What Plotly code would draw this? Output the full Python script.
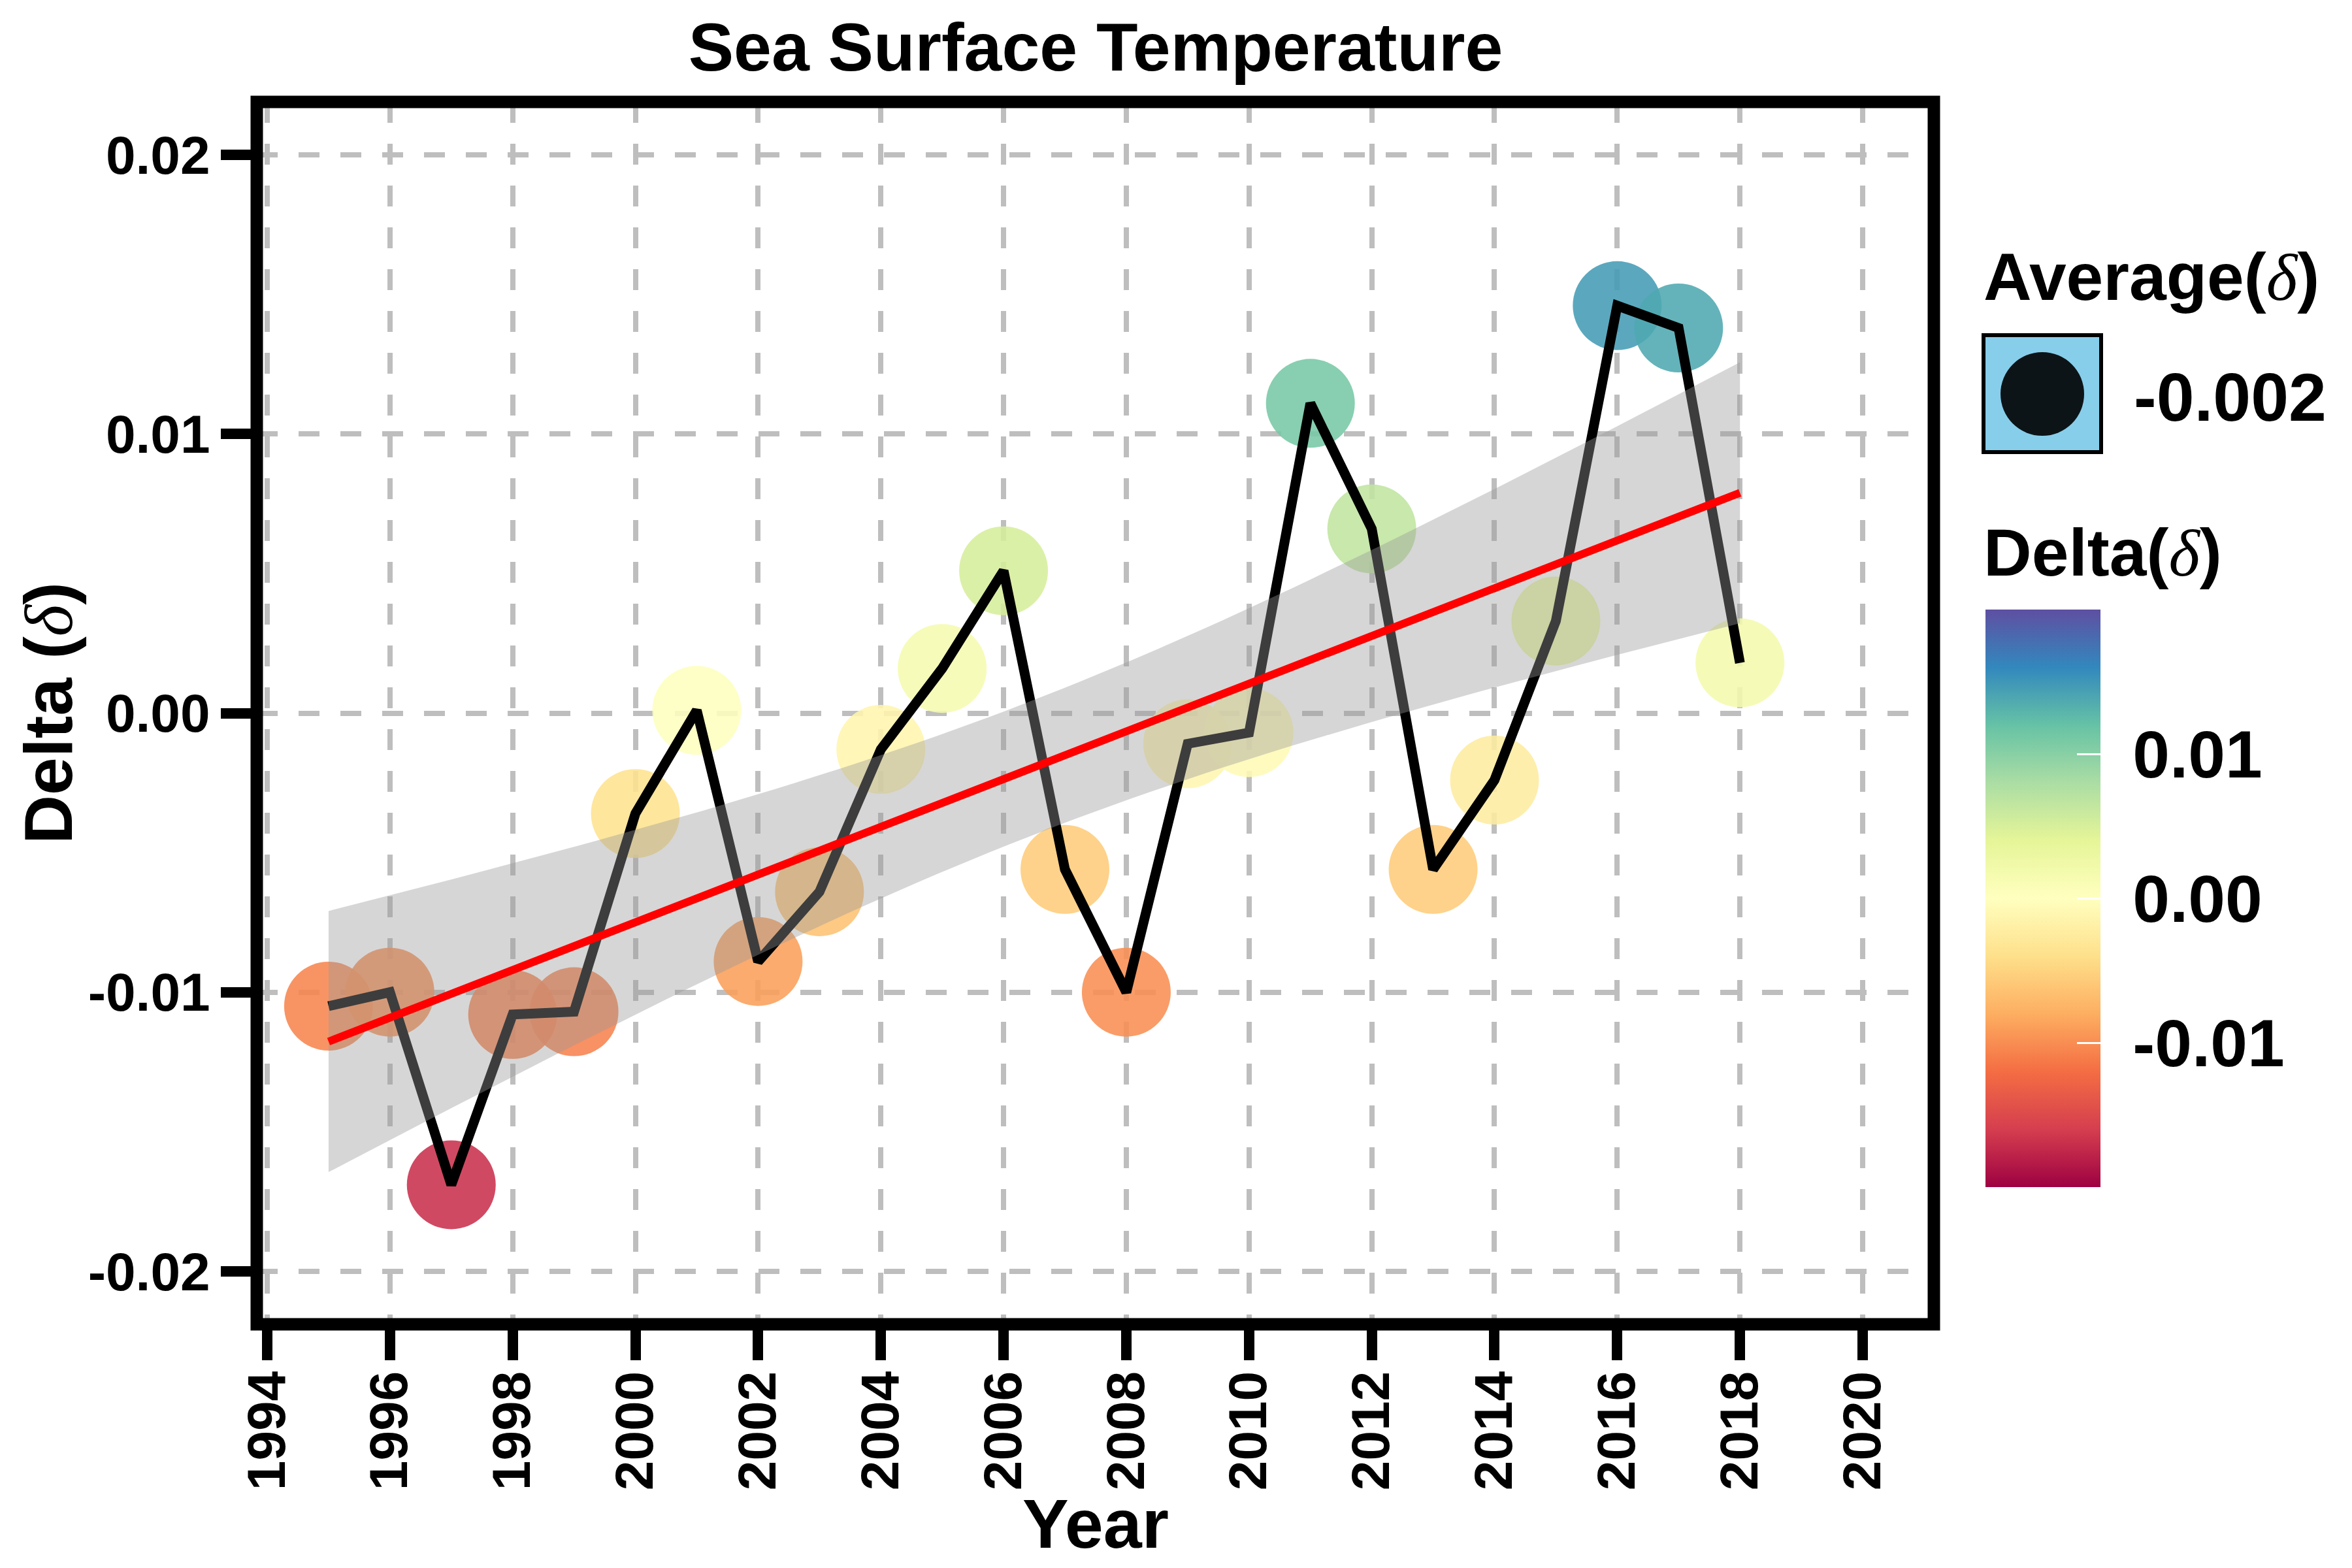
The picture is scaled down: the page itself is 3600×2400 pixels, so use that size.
import numpy as np
import plotly.graph_objects as go

# ---------------- data ----------------
years = [1995, 1996, 1997, 1998, 1999, 2000, 2001, 2002, 2003, 2004, 2005, 2006,
         2007, 2008, 2009, 2010, 2011, 2012, 2013, 2014, 2015, 2016, 2017, 2018]
delta = [-0.0105, -0.0100, -0.0169, -0.0108, -0.0107, -0.0036, 0.0001, -0.0089,
         -0.0064, -0.0013, 0.0016, 0.0051, -0.0056, -0.0100, -0.0011, -0.0007,
         0.0111, 0.0066, -0.0056, -0.0024, 0.0033, 0.0146, 0.0138, 0.0018]

x_tick_vals = [1994, 1996, 1998, 2000, 2002, 2004, 2006, 2008, 2010, 2012, 2014, 2016, 2018, 2020]
y_tick_vals = [-0.02, -0.01, 0.0, 0.01, 0.02]
y_tick_text = ["-0.02", "-0.01", "0.00", "0.01", "0.02"]
cbar_tick_vals = [-0.01, 0.0, 0.01]
cbar_tick_text = ["-0.01", "0.00", "0.01"]

# ---------------- linear fit + 95% CI (like geom_smooth(method='lm')) ----------------
x = np.array(years, dtype=float)
y = np.array(delta, dtype=float)
n = len(x)
slope, intercept = np.polyfit(x, y, 1)
resid = y - (intercept + slope * x)
s = np.sqrt(np.sum(resid ** 2) / (n - 2))
xm = x.mean()
sxx = np.sum((x - xm) ** 2)
t_crit = 2.0739  # t(0.975, df=22)
xs = np.linspace(x.min(), x.max(), 80)
fit = intercept + slope * xs
se = s * np.sqrt(1.0 / n + (xs - xm) ** 2 / sxx)
upper = fit + t_crit * se
lower = fit - t_crit * se
avg_label = f"{np.mean(y):.3f}"

# ---------------- layout geometry (figure pixels) ----------------
W, H = 3600, 2400
L, R, T, B = 385, 2952, 148, 2019


def px_x(px):
    return (px - L) / (R - L)


def px_y(py):
    return (B - py) / (B - T)


FONT = "Liberation Sans"
DELTA_SYM = '<span style="font-family:Liberation Serif;font-weight:normal"><i>δ</i></span>'
NBSP = "\u00a0"

fig = go.Figure()

fig.add_trace(go.Scatter(
    x=years, y=delta, mode="markers", showlegend=False, hoverinfo="skip",
    marker=dict(
        size=136, color=delta, colorscale="Spectral", cmin=-0.02, cmax=0.02,
        opacity=0.88, line=dict(width=0),
        colorbar=dict(
            thickness=176, thicknessmode="pixels",
            len=884, lenmode="pixels",
            xref="paper", x=px_x(3031), xanchor="left",
            yref="paper", y=px_y(1367), yanchor="middle",
            xpad=0, ypad=0, outlinewidth=0,
            tickvals=cbar_tick_vals, ticktext=[NBSP + t for t in cbar_tick_text],
            ticks="inside", tickcolor="white", ticklen=36, tickwidth=3,
            tickfont=dict(family=FONT, size=102, color="black", weight="bold"),
        ),
    ),
))

fig.add_trace(go.Scatter(
    x=years, y=delta, mode="lines", showlegend=False, hoverinfo="skip",
    line=dict(color="black", width=15),
))

fig.add_trace(go.Scatter(
    x=np.concatenate([xs, xs[::-1]]), y=np.concatenate([upper, lower[::-1]]),
    mode="lines", fill="toself", fillcolor="rgba(153,153,153,0.4)",
    line=dict(width=0), showlegend=False, hoverinfo="skip",
))

fig.add_trace(go.Scatter(
    x=xs, y=fit, mode="lines", showlegend=False, hoverinfo="skip",
    line=dict(color="red", width=12),
))

axis_common = dict(
    showgrid=True, gridcolor="#BEBEBE", gridwidth=8, griddash="32px,32px",
    zeroline=False, showline=False,
    ticks="outside", ticklen=54, tickwidth=16, tickcolor="black",
    tickfont=dict(family=FONT, size=82, color="black", weight="bold"),
)

fig.update_xaxes(range=[1993.83, 2021.16], tickvals=x_tick_vals, tickangle=-90,
                 ticklabelstandoff=-16, **axis_common)
fig.update_yaxes(range=[-0.0219, 0.0219], tickvals=y_tick_vals, ticktext=y_tick_text, **axis_common)

shapes = [
    # panel border
    dict(type="rect", xref="paper", yref="paper", x0=0, x1=1, y0=0, y1=1,
         line=dict(color="black", width=19), layer="above"),
    # legend key box
    dict(type="rect", xref="paper", yref="paper",
         x0=px_x(3028), x1=px_x(3208), y0=px_y(684), y1=px_y(505),
         fillcolor="#87CEEB", line=dict(color="black", width=6)),
    dict(type="circle", xref="paper", yref="paper",
         x0=px_x(3118 - 64), x1=px_x(3118 + 64), y0=px_y(595 + 64), y1=px_y(595 - 64),
         fillcolor="#0D1417", line=dict(width=0)),
]

annotations = [
    dict(text="Year", xref="paper", yref="paper", x=px_x(1669), y=px_y(2324),
         showarrow=False, xanchor="center", yanchor="middle",
         font=dict(family=FONT, size=106, color="black", weight="bold")),
    dict(text="Delta (" + DELTA_SYM + ")", xref="paper", yref="paper", x=px_x(66), y=px_y(1084),
         showarrow=False, xanchor="center", yanchor="middle", textangle=-90,
         font=dict(family=FONT, size=104, color="black", weight="bold")),
    dict(text="Average(" + DELTA_SYM + ")", xref="paper", yref="paper", x=px_x(3026), y=px_y(416),
         showarrow=False, xanchor="left", yanchor="middle",
         font=dict(family=FONT, size=102, color="black", weight="bold")),
    dict(text=avg_label, xref="paper", yref="paper", x=px_x(3256), y=px_y(600),
         showarrow=False, xanchor="left", yanchor="middle",
         font=dict(family=FONT, size=104, color="black", weight="bold")),
    dict(text="Delta(" + DELTA_SYM + ")", xref="paper", yref="paper", x=px_x(3026), y=px_y(838),
         showarrow=False, xanchor="left", yanchor="middle",
         font=dict(family=FONT, size=102, color="black", weight="bold")),
]

fig.update_layout(
    width=W, height=H,
    margin=dict(l=L, r=W - R, t=T, b=H - B, pad=0),
    paper_bgcolor="white", plot_bgcolor="white",
    title=dict(text="Sea Surface Temperature", x=px_x(1669), xanchor="center",
               xref="paper", yref="container", y=1 - 64 / H, yanchor="middle",
               font=dict(family=FONT, size=104, color="black", weight="bold")),
    shapes=shapes, annotations=annotations, showlegend=False, hovermode=False,
)

fig.write_html("out.html")
